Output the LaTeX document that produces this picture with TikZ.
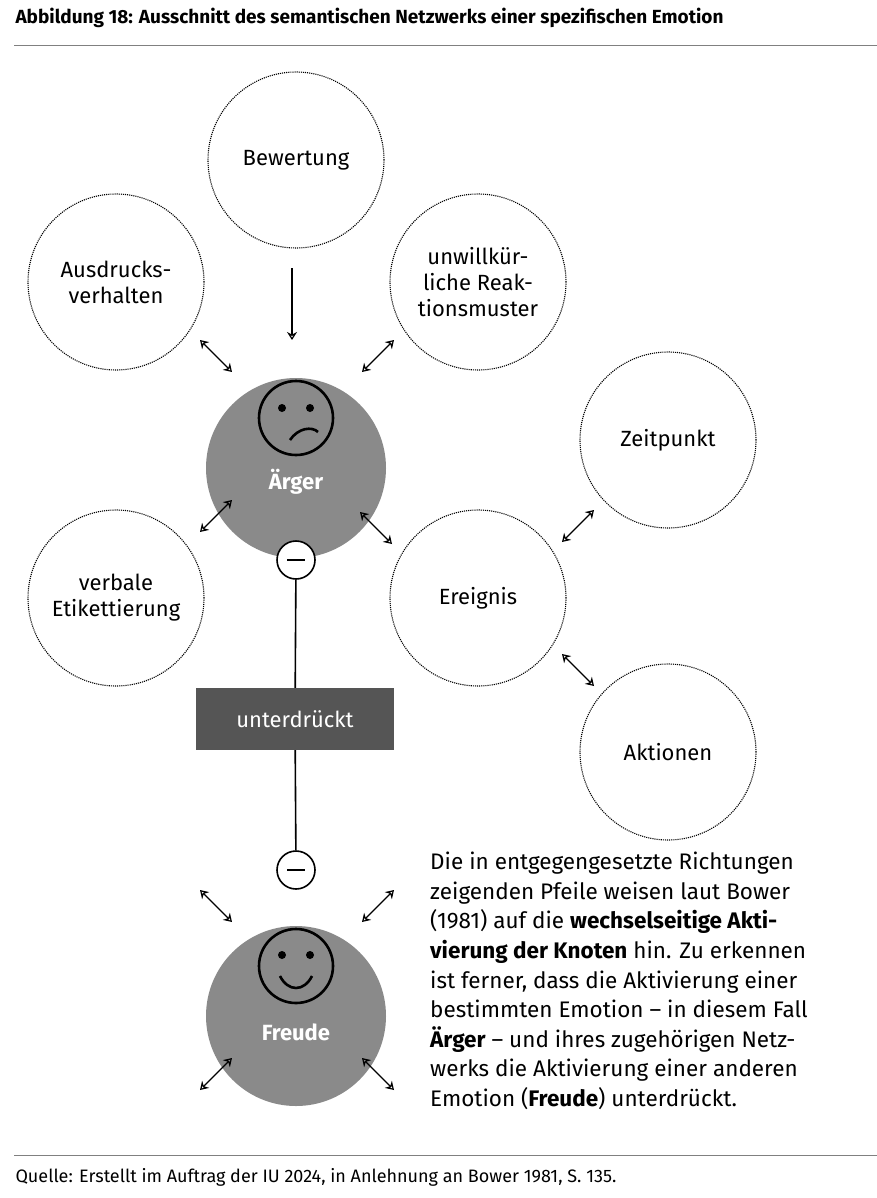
\documentclass[tikz,border=0pt]{standalone}
\usepackage{fontspec}
\setmainfont{Fira Sans}
\usetikzlibrary{arrows.meta}
\definecolor{emogray}{HTML}{8A8A8A}
\definecolor{boxgray}{HTML}{555555}
\tikzset{
  net/.style={circle,draw,densely dotted,line width=1.1pt,minimum size=176pt,align=center,font=\fontsize{22}{26}\selectfont},
  emo/.style={circle,fill=emogray,minimum size=180pt},
  inh/.style={circle,draw,line width=1.6pt,minimum size=38pt,fill=white},
  dbl/.style={{Stealth[open,length=8pt,width=10pt]}-{Stealth[open,length=8pt,width=10pt]},line width=1.2pt},
  sgl/.style={-{Stealth[open,length=8pt,width=10pt]},line width=1.2pt}
}
\begin{document}
\begin{tikzpicture}[x=1pt,y=-1pt]
\useasboundingbox (0,0) rectangle (877,1198);
% title and rules
\node[anchor=west,font=\fontsize{19}{22}\selectfont\bfseries] (title) at (12,18) {Abbildung 18: Ausschnitt des semantischen Netzwerks einer spezifischen Emotion};
\draw[gray,line width=0.8pt] (14,45) -- (877,45);
\draw[gray,line width=0.8pt] (14,1155) -- (877,1155);
\node[anchor=west,font=\fontsize{18}{22}\selectfont] (src) at (12,1177) {Quelle: Erstellt im Auftrag der IU 2024, in Anlehnung an Bower 1981, S.~135.};

% network nodes
\node[net] (bew) at (296,160) {Bewertung};
\node[net] (aus) at (116,282) {Ausdrucks-\\verhalten};
\node[net] (unw) at (478,282) {unwillkür-\\liche Reak-\\tionsmuster};
\node[net] (zeit) at (668,440) {Zeitpunkt};
\node[net] (verb) at (116,598) {verbale\\Etikettierung};
\node[net] (ereig) at (478,598) {Ereignis};
\node[net] (akt) at (668,752) {Aktionen};

% emotions
\node[emo] (aerger) at (296,468) {};
\node[emo] (freude) at (296,1016) {};
\node[font=\fontsize{22}{26}\selectfont\bfseries,text=white] (laerger) at (296,482) {Ärger};
\node[font=\fontsize{22}{26}\selectfont\bfseries,text=white] (lfreude) at (296,1032) {Freude};
\draw[line width=2.6pt] (296,418) circle (37);
\fill (282,408) circle (4); \fill (310,408) circle (4);
\draw[line width=2.6pt] (290,440) .. controls (298,428) and (312,426) .. (318,432);
\draw[line width=2.6pt] (296,966) circle (37);
\fill (282,955) circle (4); \fill (310,955) circle (4);
\draw[line width=2.6pt] (280,976) .. controls (288,992) and (304,992) .. (312,976);

% inhibition
\node[inh] (m1) at (296,560) {};
\node[inh] (m2) at (296,870) {};
\draw[line width=2.4pt] (287,560) -- (305,560);
\draw[line width=2.4pt] (287,870) -- (305,870);
\node[fill=boxgray,text=white,minimum width=198pt,minimum height=62pt,font=\fontsize{22}{26}\selectfont] (unt) at (295,719) {unterdrückt};
\draw[line width=1.6pt] (m1) -- (unt) -- (m2);

% arrows
\coordinate (a1) at (292,268); \coordinate (a2) at (292,340);
\draw[sgl] (a1) -- (a2);
\foreach \p/\q in {{200,340}/{232,372},{362,372}/{394,340},{200,532}/{232,500},{360,512}/{392,544},
  {562,542}/{594,510},{562,654}/{594,686},{200,890}/{232,922},{362,922}/{394,890},{200,1090}/{232,1058},{362,1058}/{394,1090}}
  \draw[dbl] (\p) -- (\q);

% explanation
\node[anchor=north west,align=left,font=\fontsize{22.5}{29.6}\selectfont,inner sep=0pt] (expl) at (430,852) {Die in entgegengesetzte Richtungen\\
zeigenden Pfeile weisen laut Bower\\
(1981) auf die \textbf{wechselseitige Akti-}\\
\textbf{vierung der Knoten} hin. Zu erkennen\\
ist ferner, dass die Aktivierung einer\\
bestimmten Emotion – in diesem Fall\\
\textbf{Ärger} – und ihres zugehörigen Netz-\\
werks die Aktivierung einer anderen\\
Emotion (\textbf{Freude}) unterdrückt.};
\end{tikzpicture}
\end{document}
